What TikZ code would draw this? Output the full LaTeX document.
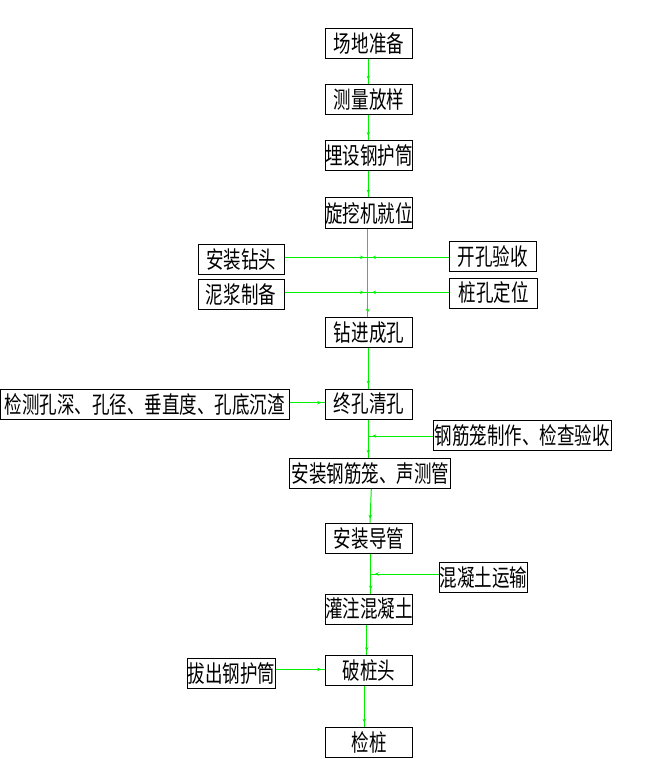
\documentclass[tikz,border=0pt]{standalone}
\usepackage{fontspec}
\newfontfamily\cjk[FakeStretch=0.745]{Noto Sans CJK SC}
\usetikzlibrary{arrows.meta,decorations.markings}
\definecolor{flowgreen}{RGB}{0,240,0}
\tikzset{
  box/.style={draw=black, line width=1pt, minimum height=30pt, inner sep=0pt,
    font=\cjk\fontsize{23.5pt}{24pt}\selectfont, anchor=center},
  conn/.style={draw=flowgreen, line width=1pt},
  flow/.style={conn, postaction={decorate},
    decoration={markings, mark=at position -4pt with {\arrow[flowgreen]{Stealth[length=4pt,width=3.5pt]}}}}
}
\begin{document}
\begin{tikzpicture}[x=1pt,y=-1pt]
\useasboundingbox (0,0) rectangle (648,759);
% main column
\node[box, minimum width=86.6pt] (b1) at (369,44) {场地准备};
\node[box, minimum width=86.6pt] (b2) at (369,99.2) {测量放样};
\node[box, minimum width=86.6pt] (b3) at (369,155.4) {埋设钢护筒};
\node[box, minimum width=86.6pt] (b4) at (369,213) {旋挖机就位};
\node[box, minimum width=86.6pt] (b5) at (369,332.3) {钻进成孔};
\node[box, minimum width=86.6pt] (b6) at (369,404) {终孔清孔};
\node[box, minimum width=160.7pt] (b7) at (370.3,473.3) {安装钢筋笼、声测管};
\node[box, minimum width=86.6pt] (b8) at (369,538.3) {安装导管};
\node[box, minimum width=86.6pt] (b9) at (369,609) {灌注混凝土};
\node[box, minimum width=86.6pt] (b10) at (369,670.7) {破桩头};
\node[box, minimum width=86.6pt] (b11) at (369,742.3) {检桩};
% side boxes
\node[box, minimum width=86pt] (s1) at (241.3,259.3) {安装钻头};
\node[box, minimum width=86pt] (s2) at (241,294.7) {泥浆制备};
\node[box, minimum width=86.7pt] (s3) at (492.7,256.7) {开孔验收};
\node[box, minimum width=87.7pt] (s4) at (493.8,293) {桩孔定位};
\node[box, minimum width=288.8pt] (s5) at (144.9,404.3) {检测孔深、孔径、垂直度、孔底沉渣};
\node[box, minimum width=177.7pt] (s6) at (522.2,435.4) {钢筋笼制作、检查验收};
\node[box, minimum width=86pt] (s7) at (483.7,577.5) {混凝土运输};
\node[box, minimum width=86.4pt] (s8) at (231.5,673.3) {拔出钢护筒};
% junction points on the main line
\coordinate (j1) at (368,257.3);
\coordinate (j2) at (368,292.3);
\coordinate (j3) at (368.3,436);
\coordinate (j4) at (370.7,574);
% vertical flow
\draw[flow] ([xshift=-0.7pt]b1.south) -- ([xshift=-0.7pt]b2.north);
\draw[flow] ([xshift=-0.7pt]b2.south) -- ([xshift=-0.7pt]b3.north);
\draw[flow] ([xshift=-0.7pt]b3.south) -- ([xshift=-0.7pt]b4.north);
\draw[flow] ([xshift=-1.3pt]b4.south) -- ([xshift=-1.3pt]b5.north);
\draw[flow] ([xshift=-0.7pt]b5.south) -- ([xshift=-0.7pt]b6.north);
\draw[flow] ([xshift=-0.7pt]b6.south) -- ([xshift=-2pt]b7.north);
\draw[flow] ([xshift=1pt]b7.south) -- ([xshift=1pt]b8.north);
\draw[flow] ([xshift=1.7pt]b8.south) -- ([xshift=1.7pt]b9.north);
\draw[flow] ([xshift=-2.3pt]b9.south) -- ([xshift=-2.3pt]b10.north);
\draw[flow] ([xshift=-4.7pt]b10.south) -- ([xshift=-4.7pt]b11.north);
% side flows
\draw[flow] ([yshift=2pt]s1.east) -- (j1);
\draw[flow] ([yshift=-0.6pt]s3.west) -- (j1);
\draw[flow] ([yshift=2.4pt]s2.east) -- (j2);
\draw[flow] ([yshift=0.7pt]s4.west) -- (j2);
\draw[flow] ([yshift=1.6pt]s5.east) -- ([yshift=1.3pt]b6.west);
\draw[flow] ([yshift=-0.6pt]s6.west) -- (j3);
\draw[flow] ([yshift=3.5pt]s7.west) -- (j4);
\draw[flow] ([yshift=4pt]s8.east) -- ([yshift=1.4pt]b10.west);
\end{tikzpicture}
\end{document}
